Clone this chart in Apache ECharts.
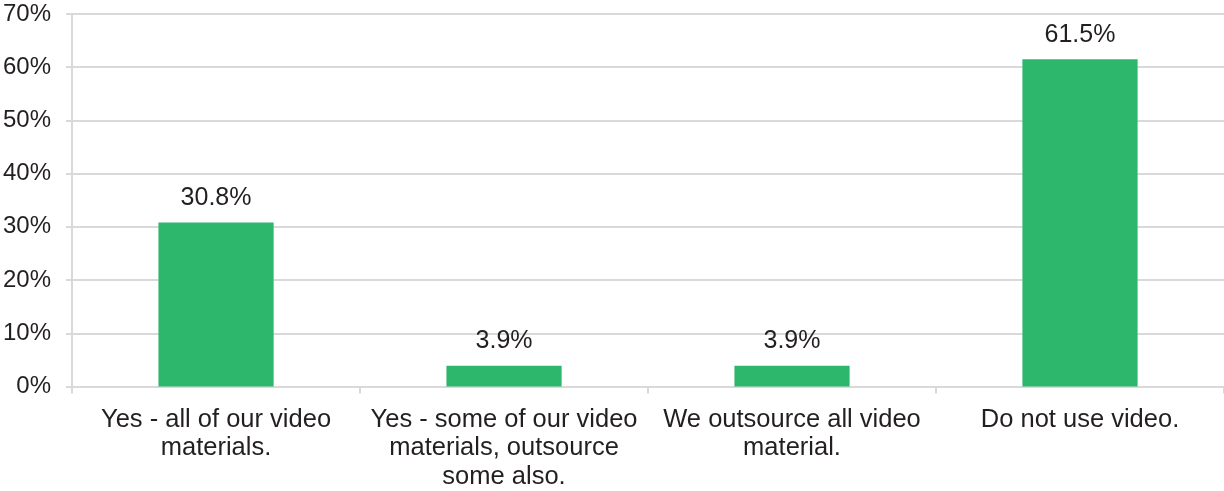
<!DOCTYPE html>
<html>
<head>
<meta charset="utf-8">
<script src="https://cdn.jsdelivr.net/npm/echarts@6/dist/echarts.min.js"></script>
<style>
  html, body { margin: 0; padding: 0; background: #ffffff; }
  #chart { width: 1224px; height: 491px; }
</style>
</head>
<body>
<div id="chart"></div>
<script>
// Survey answers (x categories, line breaks as printed)
const categories = [
  'Yes - all of our video\nmaterials.',
  'Yes - some of our video\nmaterials, outsource\nsome also.',
  'We outsource all video\nmaterial.',
  'Do not use video.'
];
// Share of respondents, percent
const shares = [30.8, 3.9, 3.9, 61.5];
// Y axis range and step, percent
const yMin = 0;
const yMax = 70;
const yStep = 10;

const textColor = '#231f20';
const lineColor = '#d9d9d9';
const fontFamily = '"Liberation Sans", Arial, Helvetica, sans-serif';

const chart = echarts.init(document.getElementById('chart'), null, { renderer: 'canvas' });
chart.setOption({
  animation: false,
  backgroundColor: '#ffffff',
  textStyle: { fontFamily: fontFamily },
  grid: { left: 72, right: 0, top: 14, bottom: 103, containLabel: false },
  xAxis: {
    type: 'category',
    data: categories,
    boundaryGap: true,
    axisLine: { show: true, lineStyle: { color: lineColor, width: 2 } },
    axisTick: { show: true, length: 7, lineStyle: { color: lineColor, width: 2 } },
    axisLabel: {
      interval: 0,
      margin: 19,
      color: textColor,
      fontSize: 25.5,
      lineHeight: 28.5,
      fontFamily: fontFamily,
      align: 'center'
    },
    splitLine: { show: false }
  },
  yAxis: {
    type: 'value',
    min: yMin,
    max: yMax,
    interval: yStep,
    axisLine: { show: true, lineStyle: { color: lineColor, width: 2 } },
    axisTick: { show: true, length: 6, lineStyle: { color: lineColor, width: 2 } },
    axisLabel: {
      margin: 21,
      color: textColor,
      fontSize: 24,
      fontFamily: fontFamily,
      formatter: function (v) { return v + '%'; }
    },
    splitLine: { show: true, lineStyle: { color: lineColor, width: 2 } }
  },
  series: [{
    type: 'bar',
    data: shares,
    barWidth: '40%',
    itemStyle: { color: '#2db76d' },
    label: {
      show: true,
      position: 'top',
      distance: 12,
      color: textColor,
      fontSize: 25,
      fontFamily: fontFamily,
      formatter: function (p) { return p.value.toFixed(1) + '%'; }
    }
  }]
});
</script>
</body>
</html>
